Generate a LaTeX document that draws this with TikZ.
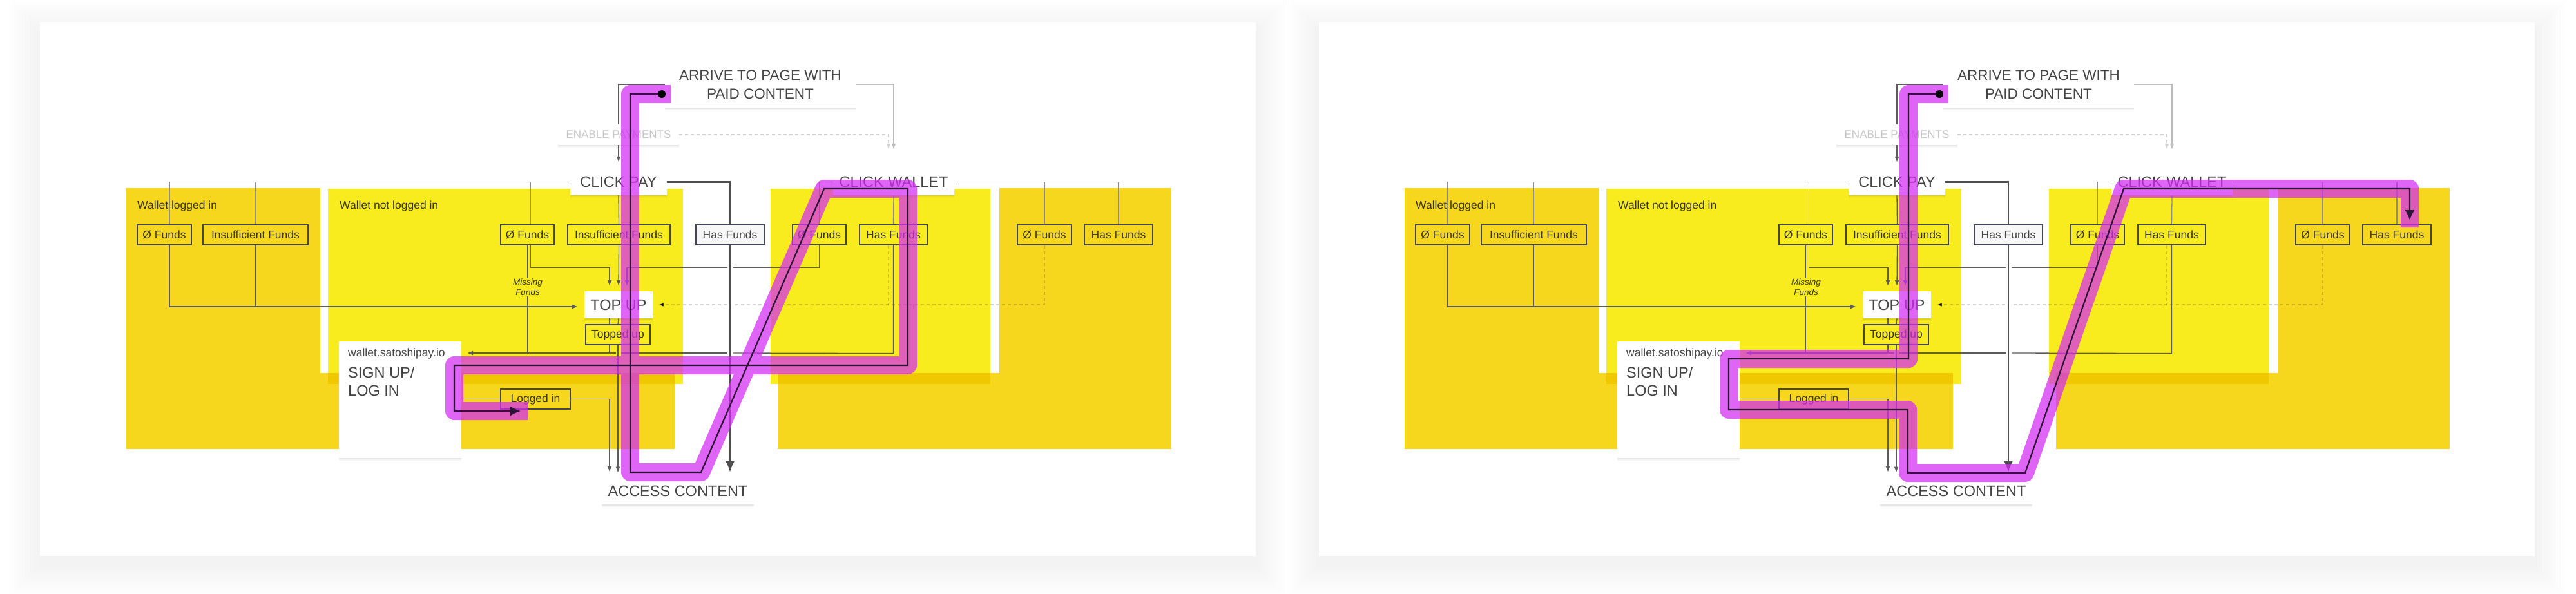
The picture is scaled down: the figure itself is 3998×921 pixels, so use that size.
\documentclass[tikz,border=0pt]{standalone}
\usepackage{fontspec}
\setmainfont{Liberation Sans}
\usetikzlibrary{arrows.meta,calc,shadows}
\definecolor{dyel}{HTML}{F7D61E}
\definecolor{lyel}{HTML}{F8EC1E}
\definecolor{bandy}{HTML}{EFC800}
\definecolor{txt}{HTML}{444444}
\definecolor{ytxt}{HTML}{3A3818}
\definecolor{bord}{HTML}{43455A}
\definecolor{cgray}{HTML}{5C5C5C}
\definecolor{lgray}{HTML}{8C8C8C}
\definecolor{vlgray}{HTML}{BDBDBD}
\definecolor{dgray}{HTML}{D2D2D2}
\definecolor{mag}{HTML}{D42AF5}
\definecolor{pathc}{HTML}{2E1535}
\definecolor{hasfill}{HTML}{F7F7F7}
\pgfdeclarelayer{base}\pgfdeclarelayer{back}\pgfdeclarelayer{mid}\pgfdeclarelayer{top}
\pgfsetlayers{base,back,mid,main,top}
\tikzset{
  nshadow/.style={drop shadow={shadow xshift=0pt, shadow yshift=-4pt, opacity=0.04, fill=black},
                  drop shadow={shadow xshift=0pt, shadow yshift=-2pt, opacity=0.06, fill=black}},
  bigbox/.style={fill=white, text=txt, inner sep=0pt, nshadow, font=\fontsize{23.5}{27}\selectfont},
  sbox/.style={draw=bord, line width=1.2pt, text=ytxt, inner sep=0pt, minimum height=31pt, font=\fontsize{17.5}{20}\selectfont},
  glabel/.style={text=ytxt, inner sep=0pt, font=\fontsize{17.5}{20}\selectfont, anchor=base west},
  conn/.style={draw=cgray, line width=1.3pt},
  lconn/.style={draw=lgray, line width=1.3pt},
  heavy/.style={draw=cgray!85!black, line width=2.4pt},
  tipa/.style={-{Latex[length=9pt,width=7pt]}},
  tipb/.style={-{Latex[length=17pt,width=14pt]}},
  tipc/.style={-{Latex[length=16pt,width=15pt]}},
  dline/.style={draw=black, draw opacity=0.16, line width=1.3pt, dash pattern=on 5pt off 4pt},
  magband/.style={draw=mag, line width=28pt, line join=round, line cap=rect, draw opacity=0.72},
  pathline/.style={draw=pathc, line width=2.2pt},
}
\newcommand\drawpanel[1]{%
\begin{pgfonlayer}{back}
  \fill[dyel] (196,292) rectangle (1047,697);
  \fill[white] (497,292) rectangle (1060,579);
  \fill[lyel] (509,293) rectangle (1060,596);
  \fill[bandy] (509,579) rectangle (1047,596);
  \fill[dyel] (1207,292) rectangle (1818,697);
  \fill[white] (1196,292) rectangle (1551,579);
  \fill[lyel] (1196,293) rectangle (1537,596);
  \fill[bandy] (1207,579) rectangle (1537,596);
\end{pgfonlayer}
  \node[glabel] (#1lblA) at (213,324) {Wallet logged in};
  \node[glabel] (#1lblB) at (527,324) {Wallet not logged in};
  \node[bigbox, font=\fontsize{22.5}{29}\selectfont, align=center, minimum width=296pt, minimum height=72pt] (#1arrive) at (1180,131) {ARRIVE TO PAGE WITH\\PAID CONTENT};
  \node[bigbox, text=black!22, font=\fontsize{17}{20}\selectfont, minimum width=188pt, minimum height=32pt] (#1enable) at (960,209) {ENABLE PAYMENTS};
  \node[bigbox, minimum width=150pt, minimum height=41pt] (#1clickpay) at (960,282.5) {CLICK PAY};
  \node[bigbox, minimum width=188pt, minimum height=41pt] (#1clickwallet) at (1387,282.5) {CLICK WALLET};
  \node[bigbox, minimum width=106pt, minimum height=42pt] (#1topup) at (960,473) {TOP UP};
  \node[bigbox, minimum width=236pt, minimum height=42pt] (#1access) at (1052,762) {ACCESS CONTENT};
  \node[fill=white, nshadow, minimum width=190pt, minimum height=181pt, inner sep=0pt] (#1wallet) at (621,620.5) {};
  \node[text=txt, font=\fontsize{17.5}{20}\selectfont, anchor=base west, inner sep=0pt] (#1url) at (540,553) {wallet.satoshipay.io};
  \node[text=txt, font=\fontsize{23.5}{28}\selectfont, anchor=base west, inner sep=0pt] (#1signup) at (540,586) {SIGN UP/};
  \node[text=txt, font=\fontsize{23.5}{28}\selectfont, anchor=base west, inner sep=0pt] (#1login) at (540,614) {LOG IN};
  \node[sbox, minimum width=84pt] (#1a1) at (255,364.5) {Ø Funds};
  \node[sbox, minimum width=163pt] (#1a2) at (396.5,364.5) {Insufficient Funds};
  \node[sbox, minimum width=83pt] (#1b1) at (818.5,364.5) {Ø Funds};
  \node[sbox, minimum width=159pt] (#1b2) at (960.5,364.5) {Insufficient Funds};
  \node[sbox, fill=hasfill, text=txt, minimum width=106pt] (#1c) at (1133,364.5) {Has Funds};
  \node[sbox, minimum width=83pt] (#1d1) at (1271.5,364.5) {Ø Funds};
  \node[sbox, minimum width=105pt] (#1d2) at (1386.5,364.5) {Has Funds};
  \node[sbox, minimum width=84pt] (#1e1) at (1621,364.5) {Ø Funds};
  \node[sbox, minimum width=106pt] (#1e2) at (1736,364.5) {Has Funds};
  \node[sbox, fill=lyel, minimum width=100pt] (#1topped) at (959,519.5) {Topped up};
  \node[sbox, minimum width=108pt] (#1logged) at (831,619.5) {Logged in};
  \node[text=ytxt, fill=lyel, inner sep=1pt, align=center, font=\itshape\fontsize{13.5}{16}\selectfont] (#1missing) at (819,446) {Missing\\Funds};
\begin{pgfonlayer}{mid}
  \draw[conn, tipa, shorten >=10pt] (#1arrive.west) -| (#1clickpay.north);
  \draw[draw=vlgray, line width=1.3pt, tipa] (#1arrive.east) -| ($(#1clickwallet.north)+(0,-30)$);
  \draw[draw=dgray, line width=1.3pt, dash pattern=on 5pt off 4pt, tipa] (#1enable.east) -| ($(#1clickwallet.north)+(-8,-30)$);
  \draw[lconn] (#1clickpay.west) -| ($(#1a1.north)+(8,0)$);
  \draw[lconn] (#1a2.north) |- (#1clickpay.west);
  \draw[lconn] ($(#1b1.north)+(5,0)$) |- (#1clickpay.west);
  \draw[conn] (#1clickpay.south) -- (#1b2.north);
  \draw[heavy] (#1clickpay.east) -| (#1c.north);
  \draw[conn, tipa] ($(#1a1.south)+(8,0)$) |- ($(#1topup.west)+(-10,3)$);
  \draw[conn] (#1a2.south) -- ($(#1a2.south |- #1topup.west)+(0,3)$);
  \draw[conn, tipa] ($(#1b1.south)+(5,0)$) -- ++(0,35) -| ($(#1topup.north)+(-14,-8)$);
  \draw[conn, tipa] (#1b2.south) -- ($(#1topup.north)+(0,-8)$);
  \draw[conn, tipa] (#1d1.south) -- ++(0,35) -| ($(#1topup.north)+(13,-8)$);
  \draw[dline] ($(#1d2.south)+(-7.5,0)$) -- ++(0,93);
  \draw[dline, tipa] (#1e1.south) |- ($(#1topup.east)+(8,0)$);
  \draw[conn] (#1b1.south) -- ++(0,168);
  \draw[conn] ($(#1topup.south)+(-14,0)$) -- ++(0,54);
  \draw[conn] (#1topup.south) -- (#1topped.north);
  \draw[conn, tipa] (#1topped.south) -- ++(0,198);
  \draw[conn, tipa] (#1logged.east) -| ($(#1access.north)+(-106,-8)$);
  \draw[conn] (#1wallet.east |- #1logged.west) -- (#1logged.west);
  \draw[conn] (#1d2.south) -- ++(0,168) -- (1137,548);
  \draw[conn] (1129,548) -- (964,548);
  \draw[conn, tipa] (956,548) -- (725,548);
  \draw[lconn] (#1clickwallet.west) -| (#1d1.north);
  \draw[lconn] (#1clickwallet.south) -- (#1d2.north);
  \draw[lconn] (#1clickwallet.east) -| (#1e2.north);
  \draw[lconn] (#1e1.north) |- (#1clickwallet.east);
  \draw[heavy, tipb, preaction={draw=white, line width=9pt, -}] (#1c.south) -- ($(#1c.south |- #1access.north)+(0,-8)$);
\end{pgfonlayer}
}
\begin{document}
\begin{tikzpicture}[x=1pt,y=-1pt]
\useasboundingbox (0,0) rectangle (3998,921);
\begin{pgfonlayer}{base}
  \fill[white] (0,0) rectangle (3998,921);
  \foreach \i in {1,...,12}{
    \fill[black, opacity=0.0055] ({62-4*\i},{48-4*\i}) rectangle ({1949+4*\i},{877+4*\i});
    \fill[black, opacity=0.0055] ({2047-4*\i},{48-4*\i}) rectangle ({3934+4*\i},{877+4*\i});
  }
  \fill[white] (62,34) rectangle (1949,863);
  \fill[white] (2047,34) rectangle (3934,863);
\end{pgfonlayer}
\drawpanel{L}
\begin{scope}[xshift=1984pt]
\drawpanel{R}
\end{scope}
\begin{pgfonlayer}{top}
  \draw[magband] (1027,146) -- (978,146) -- (978,733) -- (1088,733) -- (1279,293) -- (1409,293) -- (1409,567) -- (705,567) -- (705,638) -- (805,638);
  \draw[pathline, tipc] (1027,146) -- (978,146) -- (978,733) -- (1088,733) -- (1279,293) -- (1409,293) -- (1409,567) -- (705,567) -- (705,638) -- (808,638);
  \fill[black] (1027,146) circle[radius=6pt];
  \draw[magband] (3010,146) -- (2962,146) -- (2962,557) -- (2683,557) -- (2683,636) -- (2961,636) -- (2961,734) -- (3143,734) -- (3296,293) -- (3740,293) -- (3740,339);
  \draw[pathline, tipc] (3010,146) -- (2962,146) -- (2962,557) -- (2683,557) -- (2683,636) -- (2961,636) -- (2961,734) -- (3143,734) -- (3296,293) -- (3740,293) -- (3740,342);
  \fill[black] (3010,146) circle[radius=6pt];
\end{pgfonlayer}
\end{tikzpicture}
\end{document}
